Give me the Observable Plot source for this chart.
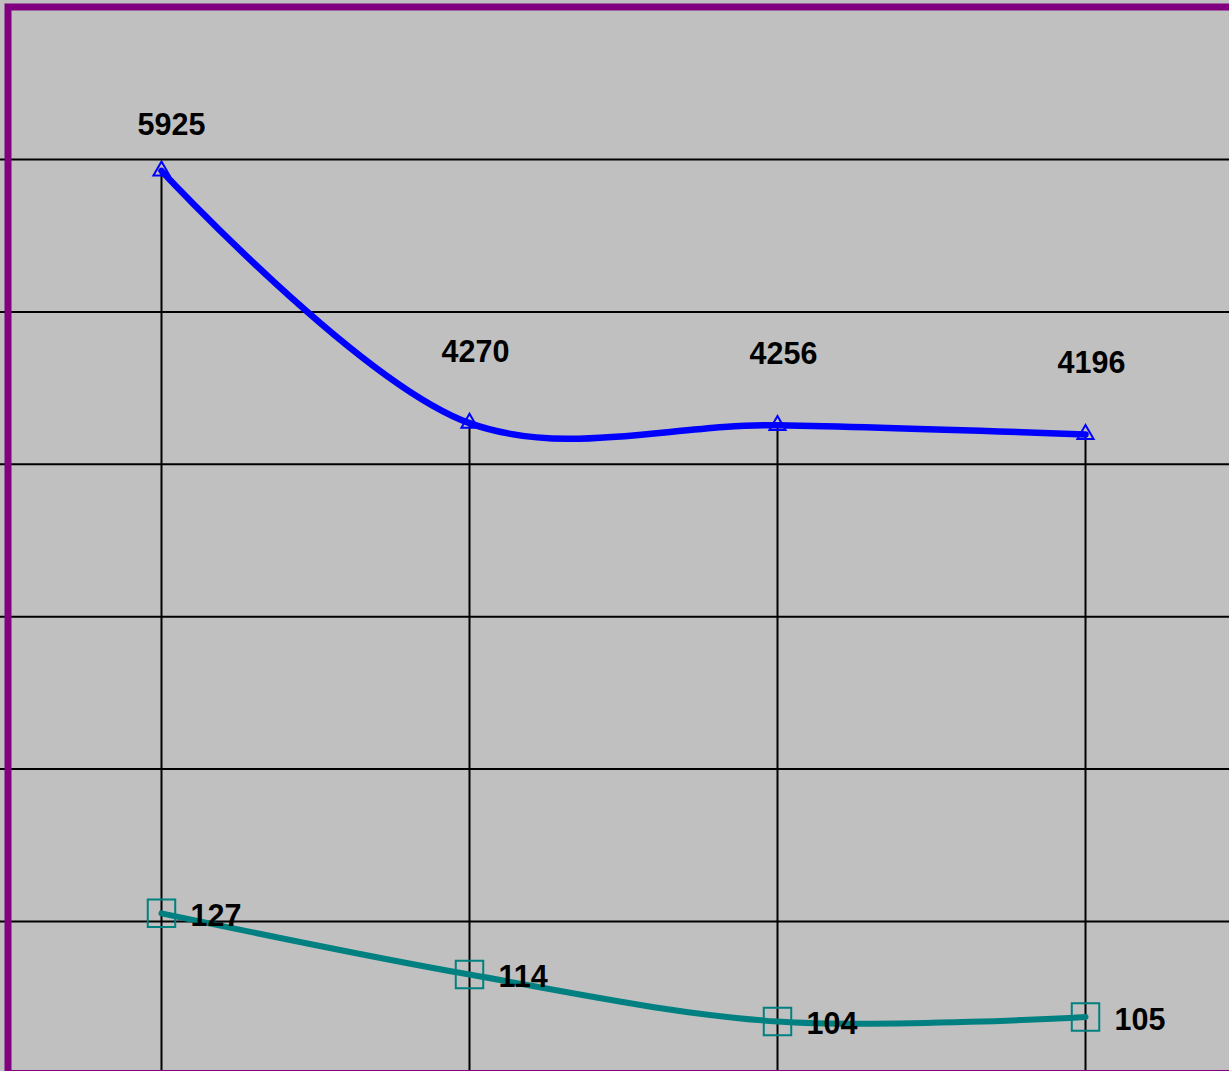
<!DOCTYPE html>
<html>
<head>
<meta charset="utf-8">
<script src="https://cdn.jsdelivr.net/npm/d3@7"></script>
<script src="https://cdn.jsdelivr.net/npm/@observablehq/plot@0.6"></script>
<style>
  html, body { margin: 0; padding: 0; background: #C0C0C0; }
  #chart { position: relative; width: 1229px; height: 1071px; }
  #chart svg { position: absolute; left: 0; top: 0; }
</style>
</head>
<body>
<div id="chart"></div>
<script>
// ---- data ----
const categories = [0, 1, 2, 3];
const primaryValues = [5925, 4270, 4256, 4196];
const secondaryValues = [127, 114, 104, 105];
const gridTicks = [1000, 2000, 3000, 4000, 5000, 6000];

const W = 1229, H = 1071;
const xDomain = [-0.5227, 3.4675];
const yDomain = [16, 7043];
const y2Domain = [93.4, 320.9];
const font = "'Liberation Sans', Arial, sans-serif";

const primary = categories.map((c, i) => ({i: c, v: primaryValues[i]}));
const secondary = categories.map((c, i) => ({i: c, v: secondaryValues[i]}));

const common = {
  width: W, height: H,
  marginTop: 0, marginRight: 0, marginBottom: 0, marginLeft: 0,
  x: {type: "linear", domain: xDomain, axis: null},
};

const labelStyle = {fontSize: 30.5, fontWeight: "bold", fill: "#000", fontFamily: font};

const main = Plot.plot({
  ...common,
  y: {domain: yDomain, axis: null},
  style: {background: "#C0C0C0", fontFamily: font},
  marks: [
    Plot.ruleY(gridTicks, {stroke: "#000", strokeWidth: 2}),
    Plot.ruleX(primary, {x: "i", y1: "v", y2: yDomain[0], stroke: "#000", strokeWidth: 2}),
    Plot.line(primary, {x: "i", y: "v", stroke: "#0000FF", strokeWidth: 6.5, curve: "catmull-rom"}),
    Plot.dot(primary, {x: "i", y: "v", symbol: "triangle", r: 6, stroke: "#0000FF", strokeWidth: 2, fill: "none"}),
    Plot.text(primary.slice(0, 1), {x: "i", y: "v", text: d => String(d.v), dx: 10, dy: -46, ...labelStyle}),
    Plot.text(primary.slice(1), {x: "i", y: "v", text: d => String(d.v), dx: 6, dy: -71, ...labelStyle}),
    Plot.frame({stroke: "#800080", strokeWidth: 7, insetLeft: 7.5, insetTop: 6.5, insetRight: -10, insetBottom: -2})
  ]
});

const overlay = Plot.plot({
  ...common,
  y: {domain: y2Domain, axis: null},
  style: {background: "transparent", fontFamily: font},
  marks: [
    Plot.line(secondary, {x: "i", y: "v", stroke: "#008080", strokeWidth: 6, curve: "catmull-rom"}),
    Plot.dot(secondary, {x: "i", y: "v", symbol: "square", r: 15.5, stroke: "#008080", strokeWidth: 2, fill: "none"}),
    Plot.text(secondary, {x: "i", y: "v", text: d => String(d.v), dx: 29, dy: 3, textAnchor: "start", ...labelStyle})
  ]
});

const el = document.getElementById("chart");
el.appendChild(main);
el.appendChild(overlay);
</script>
</body>
</html>
